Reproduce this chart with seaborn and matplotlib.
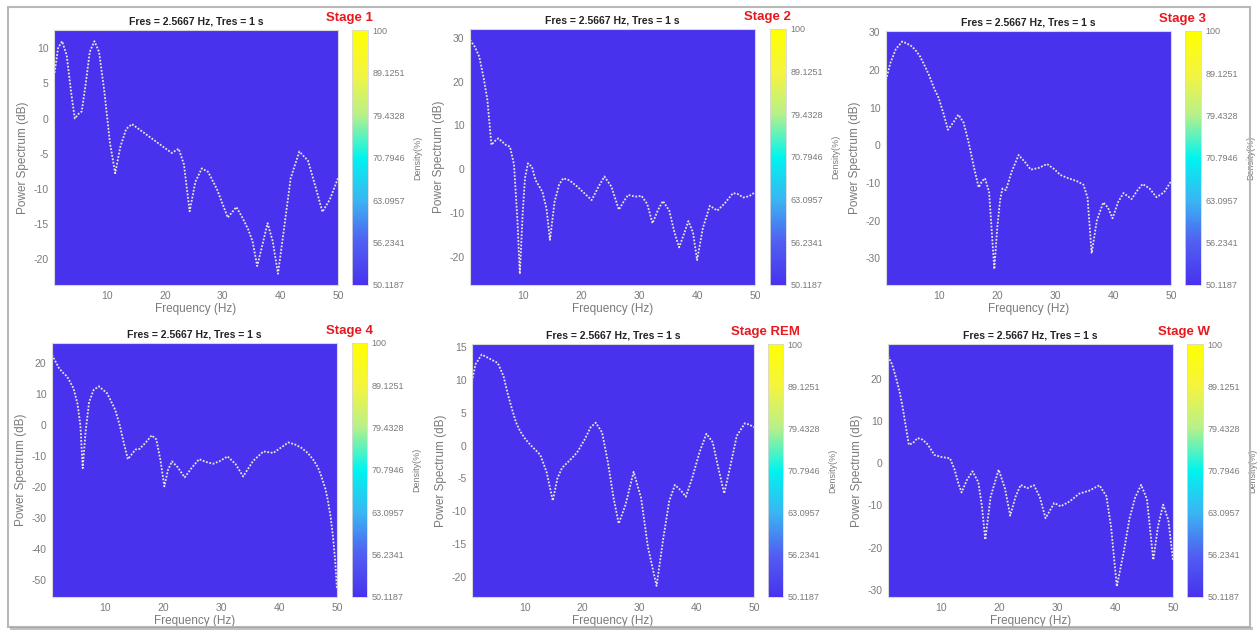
import numpy as np
import pandas as pd
import matplotlib
matplotlib.use("Agg")
import matplotlib.pyplot as plt
import seaborn as sns
from matplotlib.colors import LinearSegmentedColormap, LogNorm
from matplotlib.cm import ScalarMappable
from matplotlib.patches import Rectangle

sns.set_theme(style="white")
plt.rcParams['font.family'] = ['Liberation Sans', 'DejaVu Sans']
plt.rcParams['axes.unicode_minus'] = False

# ---------------- data ----------------
stages = ["Stage 1", "Stage 2", "Stage 3", "Stage 4", "Stage REM", "Stage W"]

freq_s1 = [0.9, 1.5, 2.2, 3.0, 3.8, 4.4, 5.1, 5.6, 6.3, 7.0, 7.8, 8.6, 9.5, 10.5, 11.4, 12.3, 13.3, 14.3, 16.0, 18.0,
           20.0, 21.2, 22.4, 23.3, 24.3, 25.3, 26.4, 27.5, 29.0, 30.9, 32.4, 33.5, 34.5, 35.2, 36.0, 36.9, 37.8, 38.7,
           39.6, 40.6, 41.8, 43.3, 44.8, 46.2, 47.3, 48.6, 50.0]
pow_s1 = [6.5, 10.0, 11.0, 9.0, 3.5, 0.0, 0.7, 1.0, 5.0, 9.5, 11.0, 9.5, 4.0, -3.5, -7.8, -4.0, -1.5, -0.8, -1.8, -3.0,
          -4.2, -4.9, -4.3, -6.5, -13.2, -9.0, -7.1, -7.6, -10.0, -14.1, -12.6, -14.2, -15.9, -17.5, -21.0, -18.0,
          -14.9, -17.5, -22.1, -16.0, -8.5, -4.7, -6.0, -10.0, -13.3, -11.5, -8.5]

freq_s2 = [0.8, 1.6, 2.4, 3.2, 3.8, 4.5, 5.0, 5.7, 6.4, 7.0, 7.7, 8.4, 9.0, 9.4, 9.9, 10.3, 10.8, 11.5, 12.1, 13.3, 14.0,
           14.6, 15.4, 16.2, 16.9, 18.0, 19.3, 20.6, 21.8, 23.0, 24.0, 25.2, 26.5, 27.3, 28.1, 29.0, 29.6, 30.4, 31.4,
           32.3, 33.2, 34.1, 35.2, 36.1, 36.9, 37.7, 38.5, 39.3, 40.0, 41.0, 42.2, 43.5, 44.8, 46.2, 47.0, 48.0, 49.0, 50.0]
pow_s2 = [29.5, 28.0, 25.7, 20.5, 15.8, 5.5, 6.3, 7.0, 6.2, 5.5, 5.1, 1.0, -12.0, -24.0, -10.0, -2.0, 1.3, 0.5, -2.5, -5.2, -9.0,
          -16.2, -7.5, -3.5, -2.1, -2.6, -4.0, -5.6, -7.1, -4.0, -1.7, -4.0, -9.3, -7.5, -5.9, -6.2, -6.3, -6.1, -8.0,
          -12.4, -9.5, -7.3, -9.5, -14.5, -17.9, -15.0, -11.9, -14.5, -20.8, -13.5, -8.4, -9.5, -7.8, -5.5, -5.7, -6.5, -6.2, -5.3]

freq_s3 = [0.8, 1.55, 2.5, 3.6, 4.4, 5.3, 6.0, 6.7, 7.5, 8.2, 9.0, 9.9, 10.8, 11.5, 12.4, 13.3, 14.2, 15.1, 16.0, 16.8,
           17.4, 17.9, 18.6, 19.5, 20.0, 20.5, 20.9, 21.5, 22.5, 23.7, 24.8, 25.8, 27.2, 28.6, 29.8, 30.9, 32.3, 33.7,
           34.9, 35.6, 36.3, 37.2, 38.3, 39.1, 39.9, 40.9, 41.8, 43.2, 44.2, 45.1, 46.3, 47.5, 48.8, 50.0]
pow_s3 = [17.3, 21.8, 25.5, 27.5, 27.0, 26.2, 25.0, 23.5, 21.0, 18.7, 15.5, 12.5, 8.0, 4.1, 6.0, 8.1, 6.0, 0.5, -6.0, -11.2,
          -9.5, -8.8, -12.5, -32.9, -22.0, -14.5, -11.5, -11.9, -7.0, -2.6, -4.5, -6.5, -6.0, -5.0, -6.3, -7.9, -8.8, -9.5,
          -10.5, -14.0, -28.7, -20.0, -15.2, -16.5, -19.4, -15.0, -12.7, -14.3, -12.0, -10.3, -11.5, -13.8, -12.5, -9.6]

freq_s4 = [0.8, 1.3, 2.0, 2.7, 3.4, 4.5, 5.2, 5.7, 6.1, 6.6, 7.2, 8.0, 8.9, 10.3, 11.7, 12.5, 13.2, 13.9, 14.5, 15.2,
           15.9, 17.0, 18.0, 18.8, 19.5, 20.2, 20.8, 21.5, 22.5, 23.7, 25.0, 26.2, 27.4, 28.6, 29.8, 31.1, 32.5, 33.8,
           35.5, 37.3, 39.0, 40.3, 41.6, 42.8, 43.9, 45.0, 45.9, 46.7, 47.3, 48.0, 48.4, 48.9, 49.3, 49.7, 50.0]
pow_s4 = [22.8, 21.0, 18.5, 17.0, 15.8, 12.0, 7.0, 0.0, -13.8, -2.0, 7.5, 11.5, 12.6, 10.4, 5.1, 0.0, -5.7, -10.9, -9.5, -7.8,
          -7.6, -5.5, -3.2, -4.5, -11.0, -19.7, -14.5, -11.6, -13.5, -16.8, -13.5, -10.9, -11.8, -12.4, -11.5, -10.0, -12.5, -16.5,
          -11.5, -8.4, -8.9, -7.2, -5.5, -6.2, -7.3, -9.0, -11.1, -13.5, -16.5, -20.5, -24.0, -29.5, -35.8, -44.0, -53.0]

freq_s5 = [0.8, 1.4, 2.5, 4.0, 5.3, 6.3, 7.0, 7.8, 8.5, 9.2, 10.1, 11.0, 12.7, 13.8, 14.9, 15.7, 16.5, 17.9, 19.1, 20.5,
           21.5, 22.4, 23.5, 24.5, 25.5, 26.4, 27.6, 29.0, 30.3, 31.5, 33.0, 34.2, 35.2, 36.2, 37.2, 38.1, 39.2, 40.5,
           41.7, 42.8, 43.8, 44.8, 45.9, 47.0, 48.4, 49.2, 50.0]
pow_s5 = [9.8, 12.4, 13.9, 13.2, 12.6, 10.6, 8.0, 5.5, 3.5, 2.2, 1.0, 0.1, -1.4, -4.0, -8.4, -5.0, -3.4, -2.2, -1.1, 1.0,
          2.8, 3.5, 2.0, -2.5, -8.0, -11.9, -9.0, -4.0, -8.0, -15.5, -21.4, -14.0, -8.5, -6.0, -6.8, -7.8, -5.0, -1.0,
          1.8, 0.5, -3.5, -7.3, -3.0, 1.5, 3.4, 3.2, 2.8]

freq_s6 = [0.8, 1.5, 2.2, 2.8, 3.3, 3.9, 4.4, 5.1, 5.9, 6.8, 7.7, 8.8, 10.0, 11.5, 12.3, 13.0, 13.5, 14.4, 15.4, 16.4,
           17.0, 17.6, 18.5, 19.9, 21.0, 21.9, 22.8, 23.7, 24.8, 26.0, 27.0, 28.0, 29.5, 30.6, 32.2, 33.8, 35.5, 37.3,
           38.5, 39.3, 40.3, 41.5, 42.5, 43.5, 44.5, 45.5, 46.6, 47.4, 48.3, 49.2, 50.0]
pow_s6 = [25.4, 23.5, 20.2, 17.0, 13.5, 8.5, 4.4, 4.8, 6.0, 5.6, 4.4, 2.0, 1.5, 1.2, -1.5, -5.0, -6.9, -4.0, -1.9, -4.5,
          -10.0, -18.1, -8.0, -1.5, -6.0, -12.4, -8.0, -5.1, -5.9, -5.2, -8.0, -13.0, -9.4, -10.2, -9.0, -7.2, -6.5, -5.2,
          -7.8, -15.0, -29.2, -21.0, -13.0, -8.0, -5.1, -8.5, -22.9, -15.0, -9.8, -13.5, -22.9]

freqs = [freq_s1, freq_s2, freq_s3, freq_s4, freq_s5, freq_s6]
powers = [pow_s1, pow_s2, pow_s3, pow_s4, pow_s5, pow_s6]

ylims = [(-23.7, 12.6), (-26.5, 32.0), (-37.1, 30.3), (-55.4, 26.6), (-23.1, 15.5), (-31.7, 28.3)]
yticks = [[-20, -15, -10, -5, 0, 5, 10],
          [-20, -10, 0, 10, 20, 30],
          [-30, -20, -10, 0, 10, 20, 30],
          [-50, -40, -30, -20, -10, 0, 10, 20],
          [-20, -15, -10, -5, 0, 5, 10, 15],
          [-30, -20, -10, 0, 10, 20]]
xticks = [10, 20, 30, 40, 50]
cbar_ticks = [50.1187, 56.2341, 63.0957, 70.7946, 79.4328, 89.1251, 100]
cbar_labels = ["50.1187", "56.2341", "63.0957", "70.7946", "79.4328", "89.1251", "100"]
title_text = "Fres = 2.5667 Hz, Tres = 1 s"

# ---------------- styling ----------------
W, H = 1260, 633
fig = plt.figure(figsize=(W / 100, H / 100), dpi=100)
fig.patch.set_facecolor("white")

cmap = LinearSegmentedColormap.from_list(
    "dens",
    [(0.0, "#4832EE"), (0.17, "#5160F2"), (0.33, "#3AB4F2"), (0.5, "#00F4F0"),
     (0.67, "#B8F08A"), (0.83, "#F4F440"), (1.0, "#FFFF00")])
norm = LogNorm(vmin=50.1187, vmax=100)
bg = cmap(0.0)

# axes boxes in pixels: (left, top, right, bottom, cbar left, cbar right)
boxes = [(54, 30, 338, 285, 352, 368),
         (470, 29, 755, 285, 770, 786),
         (886, 31, 1171, 285, 1185, 1201),
         (52, 343, 337, 597, 352, 367),
         (472, 344, 754, 597, 768, 783),
         (888, 344, 1173, 597, 1187, 1203)]

grey = "#7a7a7a"

def px(l, t, r, b):
    return [l / W, 1 - b / H, (r - l) / W, (b - t) / H]

for i in range(6):
    l, t, r, b, cl, cr = boxes[i]
    ax = fig.add_axes(px(l, t, r, b))
    ax.set_facecolor(bg)
    df = pd.DataFrame({"Frequency": freqs[i], "Power": powers[i]})
    sns.lineplot(data=df, x="Frequency", y="Power", ax=ax, estimator=None, sort=True,
                 color="#ECE8D2", linewidth=1.3, linestyle=(0, (1, 0.9)))
    ax.set_xlim(0.8, 50)
    ax.set_ylim(*ylims[i])
    ax.set_xticks(xticks)
    ax.set_yticks(yticks[i])
    ax.tick_params(axis="both", direction="in", length=2.5, width=0.6, colors="#cfcfcf",
                   labelcolor=grey, labelsize=7.5, pad=4)
    for s in ax.spines.values():
        s.set_color("#d8d8d8")
        s.set_linewidth(0.8)
    ax.set_xlabel("Frequency (Hz)", fontsize=8.5, color=grey, labelpad=2)
    ax.set_ylabel("Power Spectrum (dB)", fontsize=8.5, color=grey, labelpad=3)
    ax.set_title(title_text, fontsize=7.5, fontweight="bold", color="#222222", pad=4)

    cax = fig.add_axes(px(cl, t, cr, b))
    sm = ScalarMappable(norm=norm, cmap=cmap)
    cb = fig.colorbar(sm, cax=cax)
    cb.set_ticks(cbar_ticks)
    cb.set_ticklabels(cbar_labels)
    cb.ax.minorticks_off()
    cb.ax.tick_params(direction="in", length=2, width=0.5, colors="#bdbdbd",
                      labelcolor=grey, labelsize=6.5, pad=3)
    cb.outline.set_edgecolor("#d8d8d8")
    cb.outline.set_linewidth(0.6)
    cb.set_label("Density(%)", fontsize=6.5, color=grey, labelpad=6)

    fig.text(cl / W - 0.002, 1 - (t - 12) / H, stages[i], color="#E8191E", fontsize=9.5,
             fontweight="bold", ha="center", va="center")

# outer frame
fig.patches.append(Rectangle((8 / W, 6 / H), 1242 / W, 620 / H, transform=fig.transFigure,
                             fill=False, edgecolor="#b8b8b8", linewidth=1.5))
fig.patches.append(Rectangle((10 / W, 3 / H), 1243 / W, 3 / H, transform=fig.transFigure,
                             facecolor="#9a9a9a", edgecolor="none", alpha=0.6))

fig.savefig("out.png", dpi=100, facecolor="white")
